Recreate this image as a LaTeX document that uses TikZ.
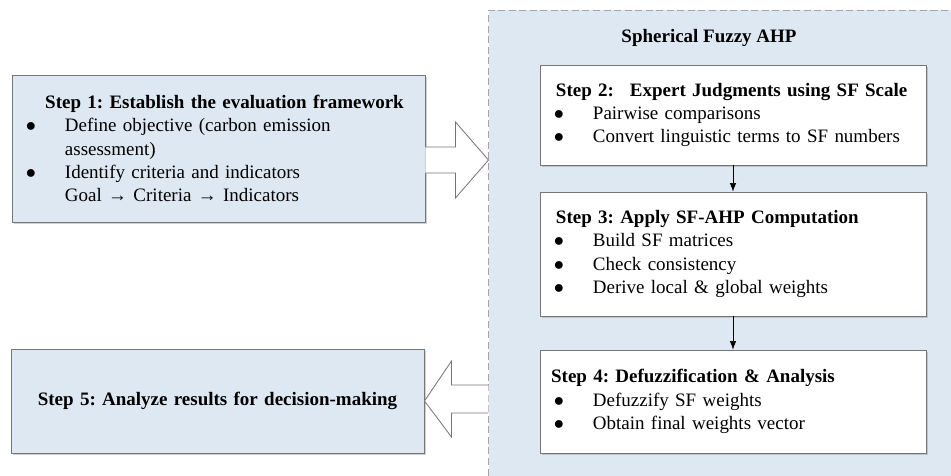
\documentclass[tikz,border=0pt]{standalone}
\usepackage{fontspec}
\setmainfont{Liberation Serif}
\usetikzlibrary{arrows.meta,shadows}
\definecolor{boxblue}{RGB}{222,232,242}
\definecolor{edgegray}{RGB}{118,118,118}
\definecolor{dashgray}{RGB}{165,165,165}
\frenchspacing
%% bullet and hanging indent for the item lists
\newcommand{\bul}{\makebox[0.925cm][l]{\hspace*{-0.05cm}$\bullet$}}
\newcommand{\ind}{\hspace*{0.925cm}}

\begin{document}
\begin{tikzpicture}[
x=0.025cm,y=-0.025cm,
font=\fontsize{13.5}{16.5}\selectfont,
stepbox/.style={%
draw=edgegray,
line width=0.6pt,
inner xsep=0.4cm,
inner ysep=0pt,
align=left,
drop shadow={shadow xshift=1.5pt,shadow yshift=-1.5pt,fill=black!40,opacity=0.45}
},
container/.style={%
draw=dashgray,
dash pattern=on 5pt off 2.5pt,
fill=boxblue,
line width=0.7pt,
anchor=north west
},
hollow/.style={%
draw=edgegray,
fill=white,
line width=0.6pt
}
]
\useasboundingbox(0,0)rectangle(951,475);
\clip(0,0)rectangle(951,475);
%% SF-AHP frame
\node[container,minimum width=12cm,minimum height=12cm]at(488,10)(ahp){};
\node[font=\fontsize{13.5}{16.5}\selectfont\bfseries]at(709,38)(ahptitle){Spherical Fuzzy AHP};
%% Steps inside the frame
\node[stepbox,fill=white,text width=8.85cm,minimum height=2.5cm]at(733,115)(s2){%
{\bfseries Step 2:\hspace{0.4cm}Expert Judgments using SF Scale}\\
\bul Pairwise comparisons\\
\bul Convert linguistic terms to SF numbers};
\node[stepbox,fill=white,text width=8.85cm,minimum height=3.1cm]at(733,254)(s3){%
{\bfseries Step 3: Apply SF-AHP Computation}\\
\bul Build SF matrices\\
\bul Check consistency\\
\bul Derive local \& global weights};
\node[stepbox,fill=white,text width=8.85cm,minimum height=2.575cm]at(733,401.5)(s4){%
\hspace*{-0.12cm}{\bfseries Step 4: Defuzzification \& Analysis}\\
\bul Defuzzify SF weights\\
\bul Obtain final weights vector};
\draw[-{Latex[length=6pt,width=4.5pt]}](s2)--(s3);
\draw[-{Latex[length=6pt,width=4.5pt]}](s3)--(s4);
%% Framework and results
\node[stepbox,fill=boxblue,text width=9.525cm,minimum height=3.675cm]at(218.5,148.5)(s1){%
\makebox[\linewidth]{\bfseries\hspace{0.3cm}Step 1: Establish the evaluation framework}\\
\bul Define objective (carbon emission\\
\ind assessment)\\
\bul Identify criteria and indicators\\
\ind Goal → Criteria → Indicators};
\node[stepbox,fill=boxblue,align=center,text width=9.525cm,minimum height=2.6cm]at(217.5,401)(s5){%
{\bfseries Step 5: Analyze results for decision-making}};
%% block arrows
\draw[hollow](s1.east)++(0,-1.5)--++(30,0)--++(0,-25)--++(33,38)--++(-33,38)--++(0,-25)--++(-30,0);
\draw[hollow](s5.east)++(64,-16)--++(-37,0)--++(0,-24)--(s5.east)--++(27,36)--++(0,-24)--++(37,0);
\end{tikzpicture}
\end{document}
